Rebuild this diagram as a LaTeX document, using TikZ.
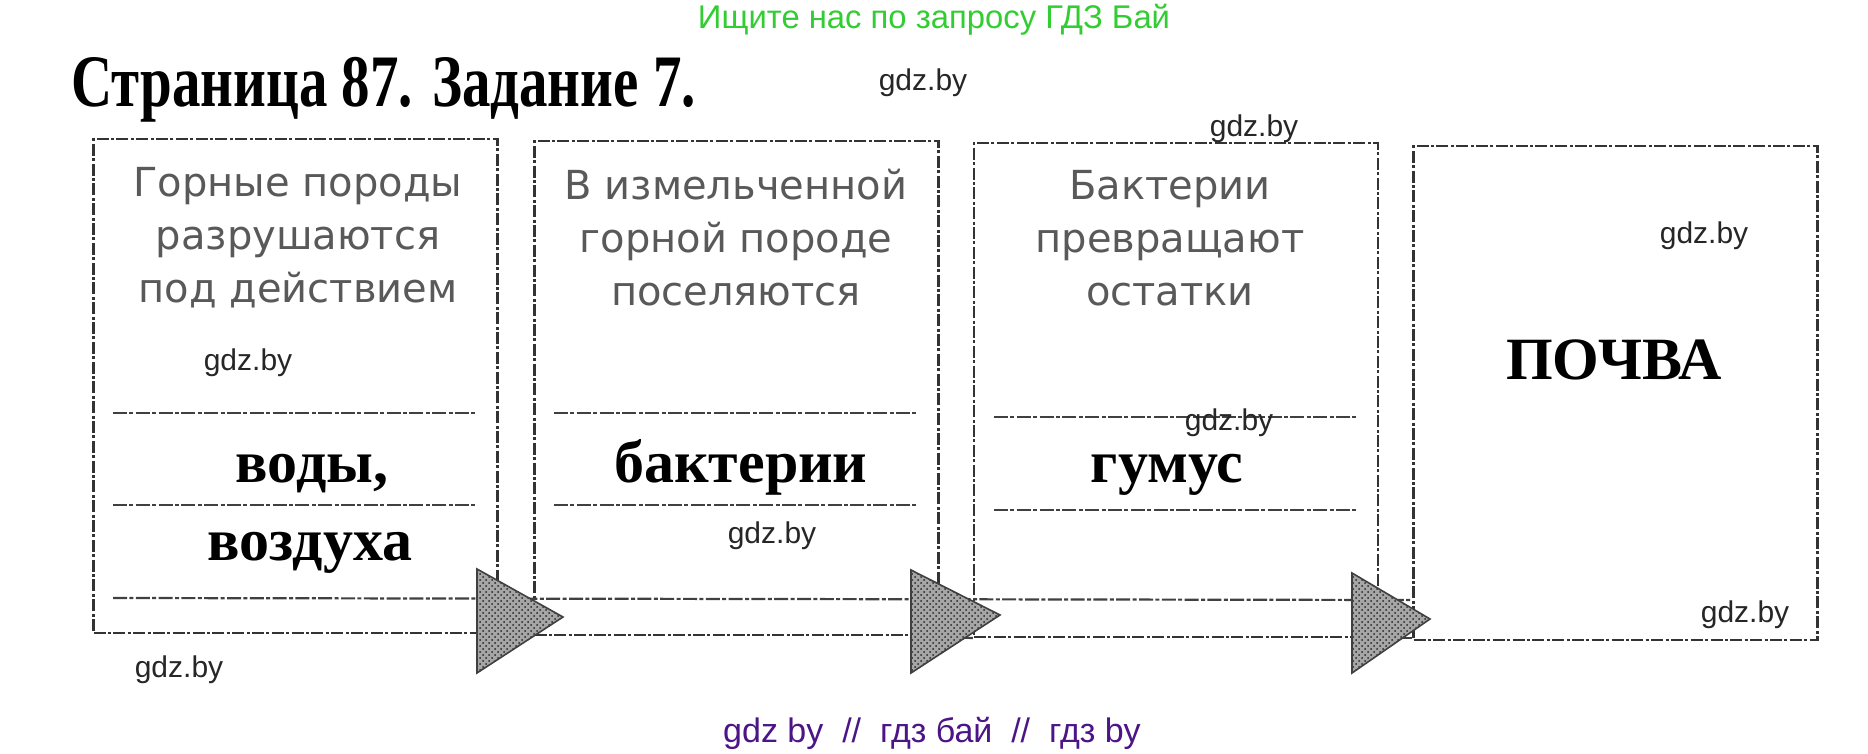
\documentclass[tikz,border=0pt]{standalone}
\usepackage{fontspec}
\setmainfont{Liberation Serif}
\newfontfamily\titlefont[FakeStretch=0.77]{Liberation Serif}
\newfontfamily\webfont{Liberation Sans}
\newfontfamily\scanfont{DejaVu Sans}
\usetikzlibrary{patterns}
\definecolor{searchgreen}{RGB}{50,205,50}
\definecolor{footviolet}{RGB}{75,20,135}

\begin{document}
\begin{tikzpicture}[x=0.5pt,y=-0.5pt]
                \tikzstyle{every node}+=[inner sep=0pt]
                \tikzstyle{frame}=[draw=black!80,line width=1.1pt,dash pattern=on 6pt off 1.2pt on 1.5pt off 1.2pt,minimum width=202pt,minimum height=247pt]
                \tikzstyle{rule}=[draw=black!75,line width=1.1pt,dash pattern=on 7pt off 1.2pt on 2pt off 1.2pt]
                \tikzstyle{question}=[font=\scanfont\fontsize{20}{26.5}\selectfont,text=black!65,align=center]
                \tikzstyle{answer}=[font=\bfseries\fontsize{30}{30}\selectfont,anchor=base]
                \tikzstyle{headtri}=[draw=black!75,line width=0.8pt,preaction={fill=black!35},pattern=crosshatch dots,pattern color=black!85]
                \tikzstyle{wmtext}=[font=\webfont\fontsize{15}{15}\selectfont,text=black!85]
                \useasboundingbox (0,0) rectangle (1868,754);
                % header
                \node[font=\webfont\fontsize{16.4}{16.4}\selectfont,text=searchgreen] (search) at (934,20) {Ищите нас по запросу ГДЗ Бай};
                \node[font=\titlefont\bfseries\fontsize{37}{37}\selectfont,anchor=base west] (title) at (71,107) {Страница 87. Задание 7.};
                % boxes
                \node[frame] (b1) at (295.5,386) {};
                \node[frame] (b2) at (736.5,388) {};
                \node[frame] (b3) at (1176,390) {};
                \node[frame] (b4) at (1615.5,393) {};
                \draw[rule] (113,413) -- (477,413);
                \draw[rule] (113,505) -- (477,505);
                \draw[rule] (554,413) -- (918,413);
                \draw[rule] (554,505) -- (918,505);
                \draw[rule] (994,417) -- (1357,417);
                \draw[rule] (994,510) -- (1357,510);
                \draw[rule] (113,598) -- (b4.west |- 0,600);
                \draw[rule] (b1.south east) -- (b2.south west);
                \draw[rule] (b2.south east) -- (b3.south west);
                \draw[rule] (b3.south east) -- (b4.west |- b3.south east);
                % arrow heads
                \draw[headtri] (477,569) -- (563,617) -- (477,673) -- cycle;
                \draw[headtri] (911,570) -- (1000,615) -- (911,673) -- cycle;
                \draw[headtri] (1352,573) -- (1430,619) -- (1352,673) -- cycle;
                % texts
                \node[question] (q1) at (298,238) {Горные породы\\разрушаются\\под действием};
                \node[question] (q2) at (736,238) {В измельченной\\горной породе\\поселяются};
                \node[question] (q3) at (1170,238) {Бактерии\\превращают\\остатки};
                \node[answer] (a1) at (312,482) {воды,};
                \node[answer] (a1b) at (310,560) {воздуха};
                \node[answer] (a2) at (741,482) {бактерии};
                \node[answer] (a3) at (1167,482) {гумус};
                \node[answer] (a4) at (1614,379) {ПОЧВА};
                % watermarks
                \node[wmtext] (wm1) at (923,83) {gdz.by};
                \node[wmtext] (wm2) at (1254,129) {gdz.by};
                \node[wmtext] (wm3) at (1704,236) {gdz.by};
                \node[wmtext] (wm4) at (248,363) {gdz.by};
                \node[wmtext] (wm5) at (1229,423) {gdz.by};
                \node[wmtext] (wm6) at (772,536) {gdz.by};
                \node[wmtext] (wm7) at (179,670) {gdz.by};
                \node[wmtext] (wm8) at (1745,615) {gdz.by};
                \node[font=\webfont\fontsize{17}{17}\selectfont,text=footviolet] (foot) at (932,733) {gdz by\ \ //\ \ гдз бай\ \ //\ \ гдз by};
\end{tikzpicture}
\end{document}
